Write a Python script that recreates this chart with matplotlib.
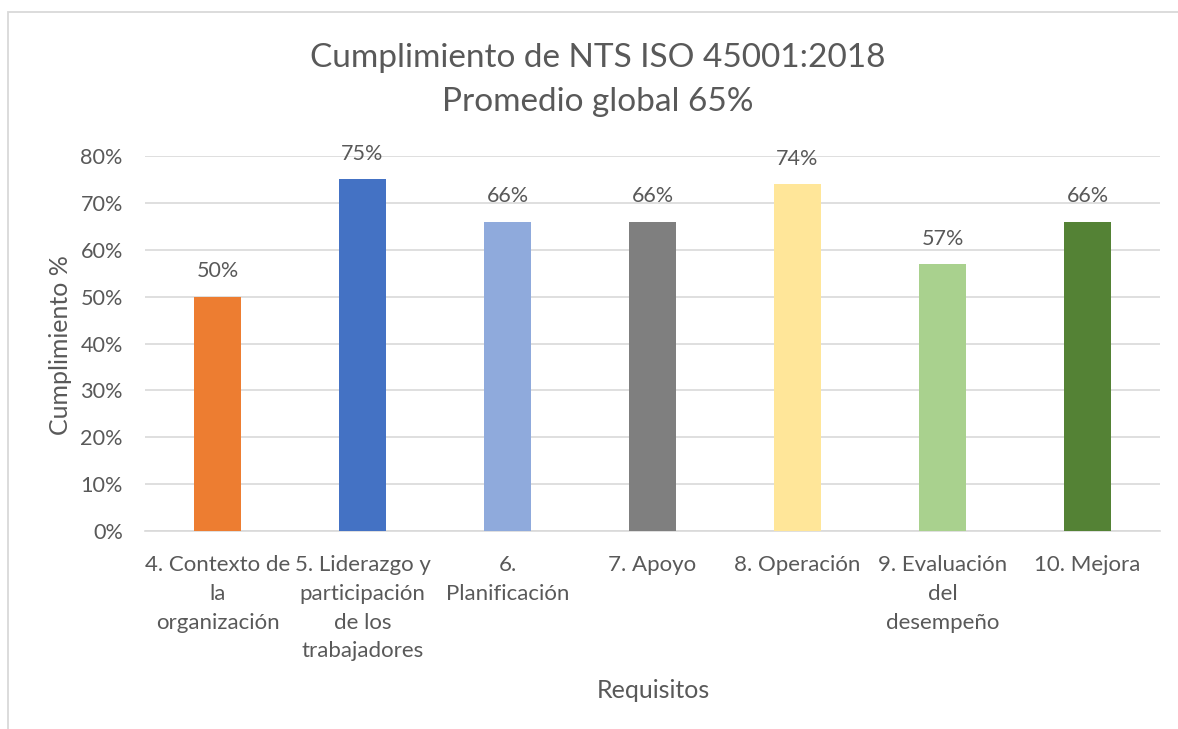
import matplotlib.pyplot as plt
from matplotlib.patches import Rectangle
from matplotlib.ticker import PercentFormatter

# Data
categorias = ['4. Contexto de\nla\norganización',
              '5. Liderazgo y\nparticipación\nde los\ntrabajadores',
              '6.\nPlanificación',
              '7. Apoyo',
              '8. Operación',
              '9. Evaluación\ndel\ndesempeño',
              '10. Mejora']
cumplimiento = [0.50, 0.75, 0.66, 0.66, 0.74, 0.57, 0.66]
colores = ['#ED7D31', '#4472C4', '#8FAADC', '#7F7F7F', '#FFE699', '#A9D18E', '#548235']

plt.rcParams['font.family'] = ['Lato', 'DejaVu Sans']
txt = '#595959'

fig = plt.figure(figsize=(11.78, 7.29), dpi=100)
W, H = 1178, 729

# outer chart frame (Excel style)
fig.patches.append(Rectangle((8 / W, -0.1), 1.2, 1 - 12 / H + 0.1, transform=fig.transFigure,
                             fill=False, edgecolor='#D9D9D9', linewidth=1.3))

ax = fig.add_axes([145 / W, 1 - 531 / H, (1160 - 145) / W, (531 - 156) / H])
x = range(len(categorias))
bars = ax.bar(x, cumplimiento, width=0.32, color=colores, zorder=3)

for b, v in zip(bars, cumplimiento):
    ax.annotate(f'{v:.0%}', (b.get_x() + b.get_width() / 2, v), xytext=(0, 11),
                textcoords='offset points', ha='center', va='bottom',
                fontsize=15.5, color=txt)

ax.set_xlim(-0.5, len(categorias) - 0.5)
ax.set_ylim(0, 0.8)
ax.set_yticks([i / 10 for i in range(9)])
ax.yaxis.set_major_formatter(PercentFormatter(1.0, decimals=0))
ax.grid(axis='y', color='#D9D9D9', linewidth=1.2, zorder=0)
for s in ['top', 'right', 'left']:
    ax.spines[s].set_visible(False)
ax.spines['bottom'].set_color('#D9D9D9')
ax.spines['bottom'].set_linewidth(1.2)
ax.tick_params(length=0, labelsize=15.6, labelcolor=txt)
ax.tick_params(axis='y', pad=16)
ax.tick_params(axis='x', pad=17, labelsize=16)
ax.set_xticks(list(x))
ax.set_xticklabels(categorias, linespacing=1.56)

fig.text(60 / W, 1 - 345 / H, 'Cumplimiento %', rotation=90, ha='center', va='center',
         fontsize=18, color=txt)
fig.text(653 / W, 1 - 690 / H, 'Requisitos', ha='center', va='center', fontsize=18, color=txt)
fig.text(598 / W, 1 - 80 / H, 'Cumplimiento de NTS ISO 45001:2018\nPromedio global 65%',
         ha='center', va='center', fontsize=24, color=txt, linespacing=1.55)

fig.savefig('out.png', dpi=100)
